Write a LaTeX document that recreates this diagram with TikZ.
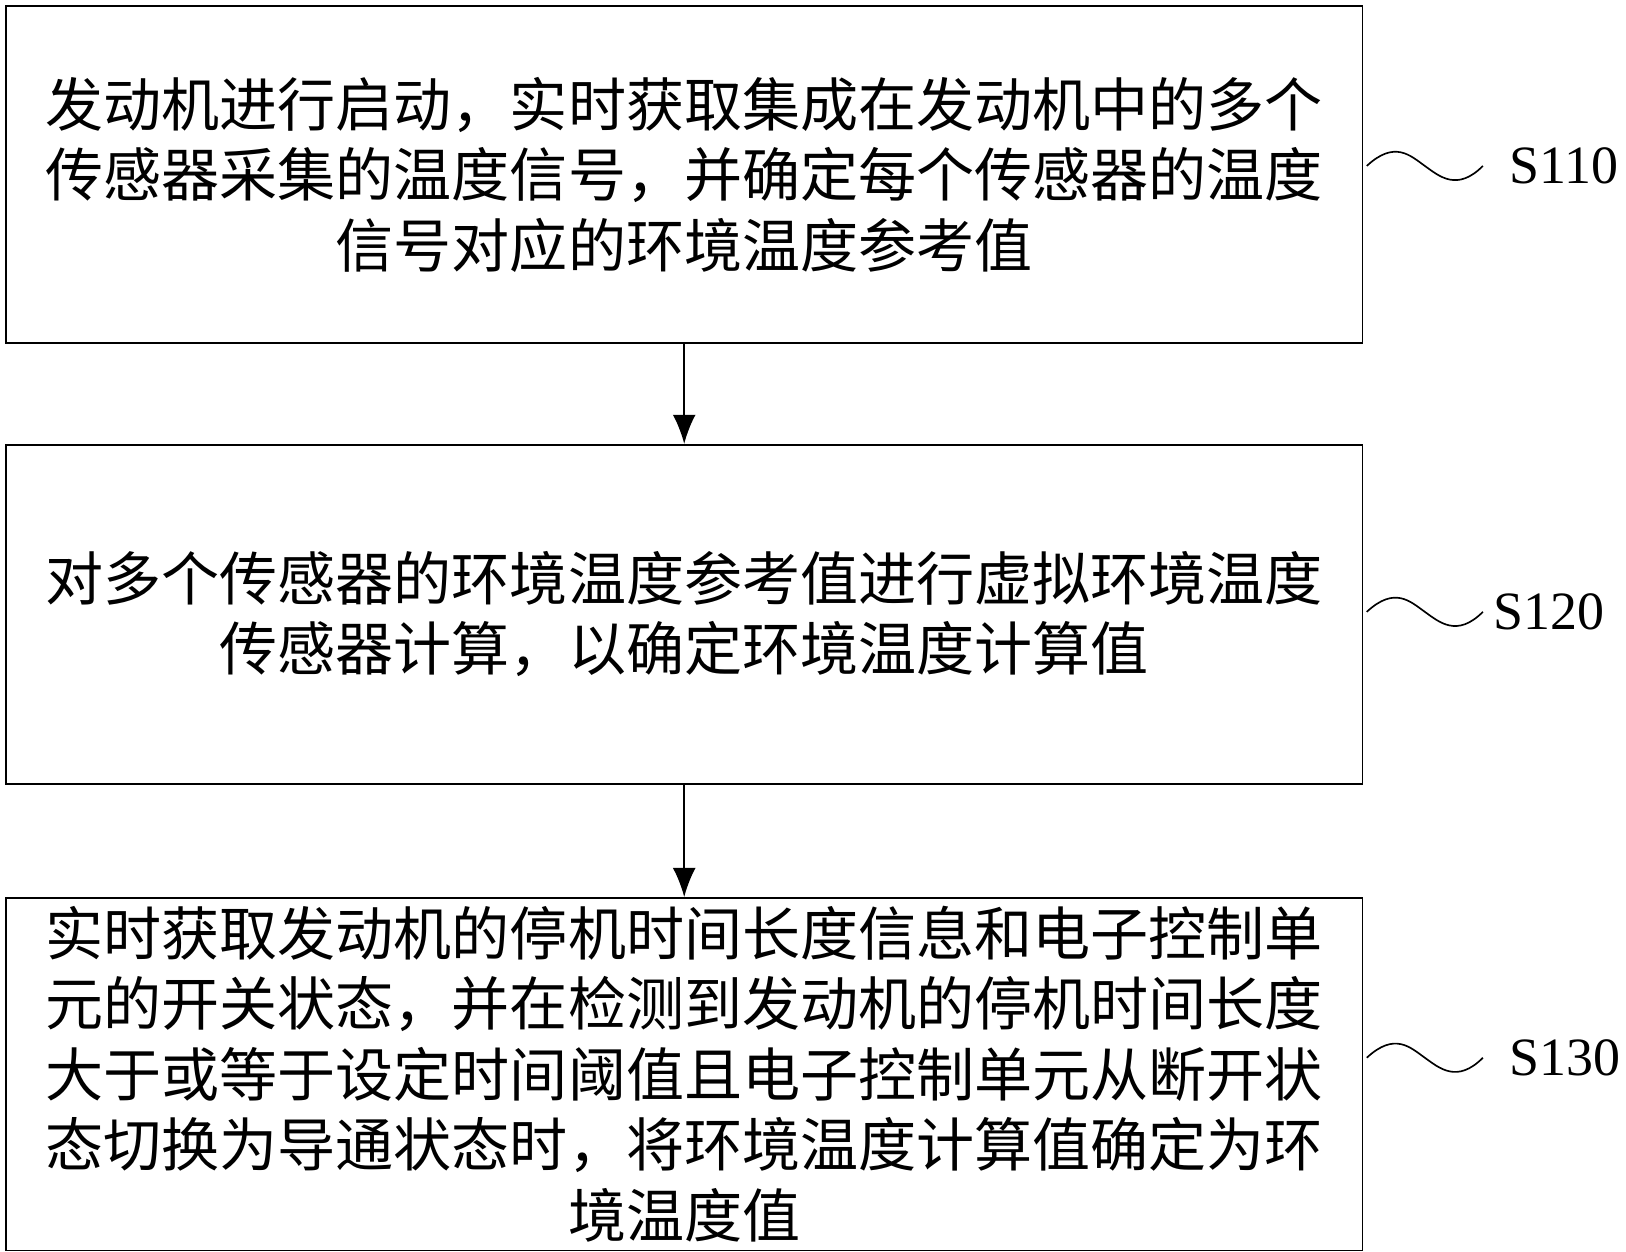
\documentclass[tikz,border=0pt]{standalone}
\usepackage{fontspec}
\setmainfont{Liberation Serif}
\newfontfamily\cjk{Noto Sans CJK SC}
\begin{document}
\begin{tikzpicture}[x=0.5pt,y=-0.5pt,
  box/.style={draw,line width=0.8pt,minimum width=654pt,align=center,font=\cjk\fontsize{28}{34}\selectfont,anchor=north west,inner sep=0pt},
  arr/.style={-{Latex[length=14pt,width=11pt]},line width=0.8pt},
  lab/.style={font=\fontsize{26}{30}\selectfont,anchor=west,inner sep=0pt}]
\usetikzlibrary{arrows.meta}
\useasboundingbox (0,0) rectangle (1568,1207);
\node[box,minimum height=162.5pt] (b1) at (5,5) {发动机进行启动，实时获取集成在发动机中的多个\\传感器采集的温度信号，并确定每个传感器的温度\\信号对应的环境温度参考值};
\node[box,minimum height=163.5pt] (b2) at (5,428) {对多个传感器的环境温度参考值进行虚拟环境温度\\传感器计算，以确定环境温度计算值};
\node[box,minimum height=170pt] (b3) at (5,865) {实时获取发动机的停机时间长度信息和电子控制单\\元的开关状态，并在检测到发动机的停机时间长度\\大于或等于设定时间阈值且电子控制单元从断开状\\态切换为导通状态时，将环境温度计算值确定为环\\境温度值};
\draw[arr] (b1.south) -- (b2.north);
\draw[arr] (b2.south) -- (b3.north);
\foreach \y/\t/\lx in {160/S110/1455,590/S120/1440,1020/S130/1455}{
  \coordinate (w0) at (1318,\y);
  \coordinate (w1) at (1430,\y);
  \draw[line width=0.8pt] (w0) .. controls (1345,\y-25) and (1360,\y-10) .. (1374,\y) .. controls (1388,\y+10) and (1405,\y+25) .. (w1);
  \node[lab] (l\t) at (\lx,\y) {\t};
}
\end{tikzpicture}
\end{document}
